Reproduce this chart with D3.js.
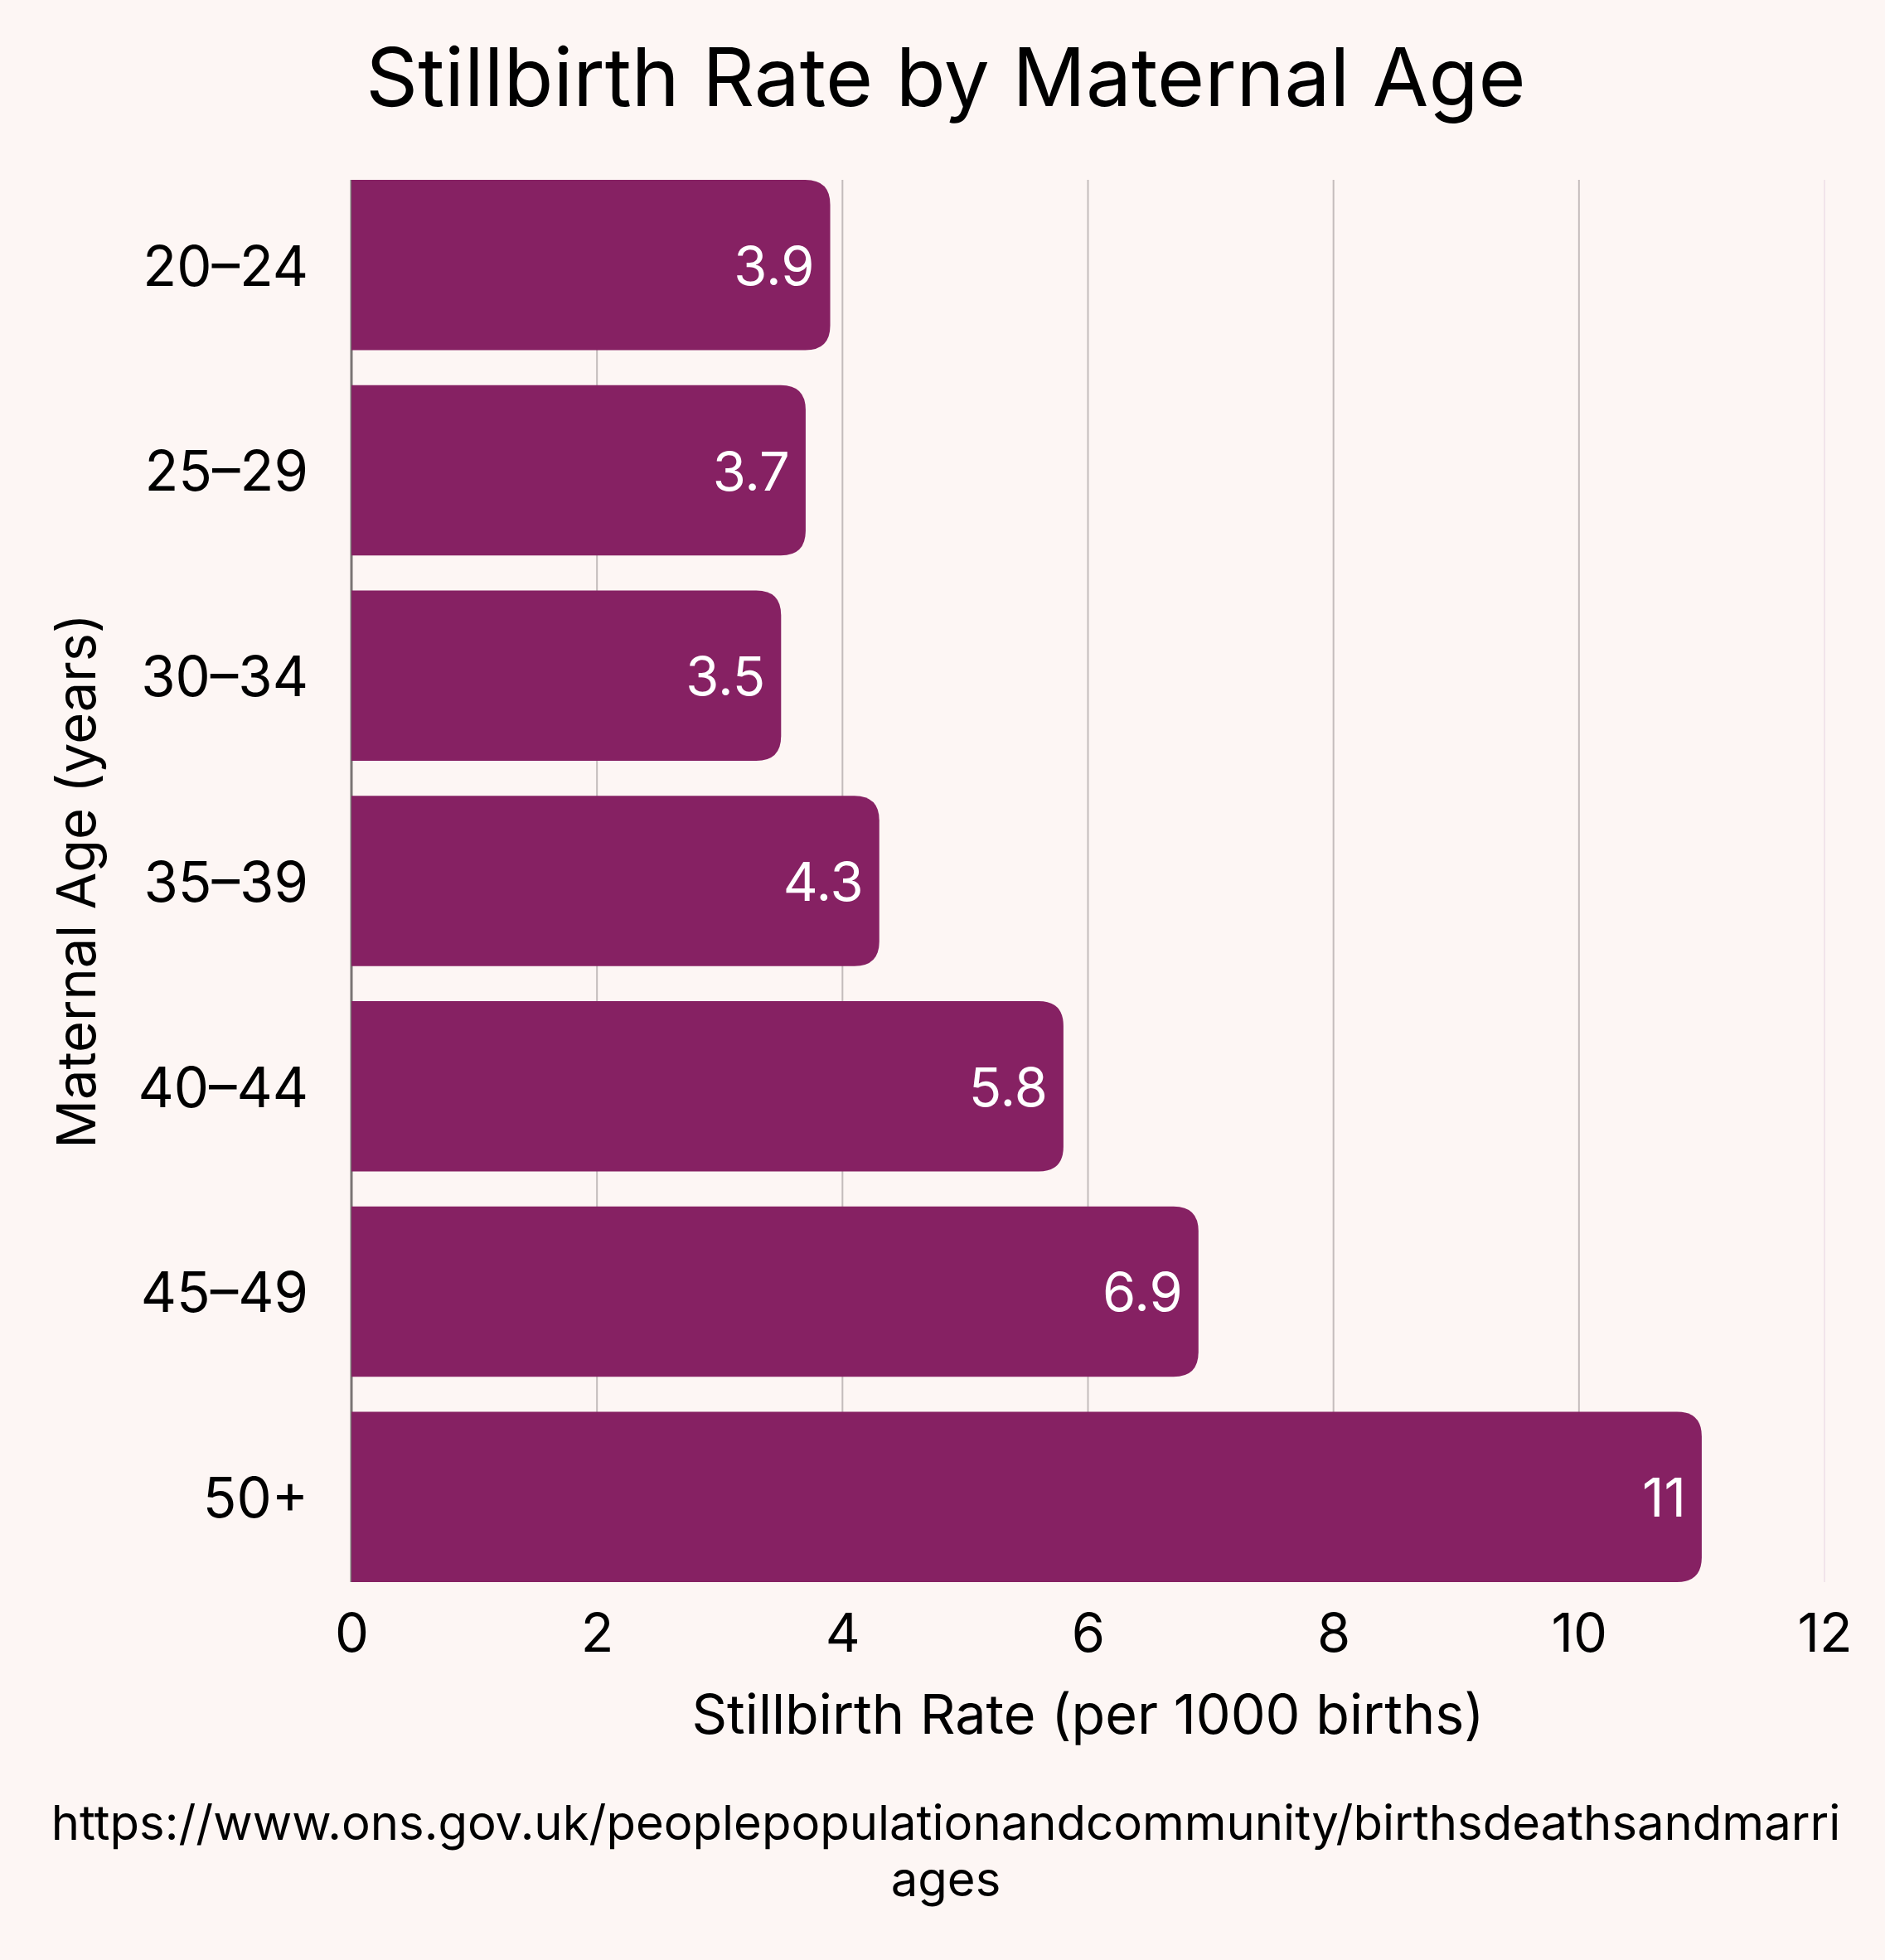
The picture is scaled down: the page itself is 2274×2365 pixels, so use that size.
<!DOCTYPE html>
<html>
<head>
<meta charset="utf-8">
<script src="https://cdn.jsdelivr.net/npm/d3@7"></script>
<style>
  html, body { margin: 0; padding: 0; background: #fdf6f4; }
  svg { display: block; font-family: Inter, "Noto Sans", sans-serif; }
</style>
</head>
<body>
<div id="chart"></div>
<script>
// ---------- Data ----------
const ageGroups = ["20–24", "25–29", "30–34", "35–39", "40–44", "45–49", "50+"];
const rates = [3.9, 3.7, 3.5, 4.3, 5.8, 6.9, 11];
const xTicks = [0, 2, 4, 6, 8, 10, 12];
const sourceLines = [
  "https://www.ons.gov.uk/peoplepopulationandcommunity/birthsdeathsandmarri",
  "ages"
];

const data = ageGroups.map((g, i) => ({ group: g, rate: rates[i] }));

// ---------- Layout ----------
const width = 2274, height = 2365;
const margin = { top: 217, right: 73, bottom: 456, left: 424 };
const barColor = "#862163";

const svg = d3.select("#chart").append("svg")
  .attr("width", width)
  .attr("height", height);

svg.append("rect")
  .attr("width", width).attr("height", height)
  .attr("fill", "#fdf6f4");

const x = d3.scaleLinear()
  .domain([0, 12])
  .range([margin.left, width - margin.right]);

const y = d3.scaleBand()
  .domain(ageGroups)
  .range([margin.top, height - margin.bottom])
  .paddingInner(0.17)
  .paddingOuter(0);

// ---------- Grid ----------
svg.append("g")
  .selectAll("line")
  .data(xTicks)
  .join("line")
  .attr("x1", d => x(d)).attr("x2", d => x(d))
  .attr("y1", margin.top).attr("y2", height - margin.bottom)
  .attr("stroke", d => d === 0 ? "#7a7474" : d === 12 ? "#f1e4ea" : "#c4bcbc")
  .attr("stroke-width", d => d === 0 ? 3 : 2);

// ---------- Bars ----------
function barPath(d) {
  const x0 = x(0), x1 = x(d.rate);
  const y0 = y(d.group), h = y.bandwidth();
  const r = Math.min(30, (x1 - x0) / 2);
  return `M${x0},${y0}H${x1 - r}Q${x1},${y0} ${x1},${y0 + r}` +
    `V${y0 + h - r}Q${x1},${y0 + h} ${x1 - r},${y0 + h}H${x0}Z`;
}

svg.append("g")
  .selectAll("path")
  .data(data)
  .join("path")
  .attr("d", barPath)
  .attr("fill", barColor);

// value labels
svg.append("g")
  .selectAll("text")
  .data(data)
  .join("text")
  .attr("x", d => x(d.rate) - 19)
  .attr("y", d => y(d.group) + y.bandwidth() / 2 + 24)
  .attr("text-anchor", "end")
  .attr("fill", "#ffffff")
  .attr("font-size", 65)
  .text(d => d3.format("~g")(d.rate));

// ---------- Axes ----------
const xAxis = svg.append("g")
  .attr("transform", `translate(0,${height - margin.bottom})`)
  .call(d3.axisBottom(x).tickValues(xTicks).tickSize(0).tickPadding(84));
xAxis.select(".domain").remove();
xAxis.selectAll("text")
  .attr("font-size", 65)
  .attr("font-family", "Inter, 'Noto Sans', sans-serif")
  .attr("fill", "#000")
  .attr("dy", null);

const yAxis = svg.append("g")
  .attr("transform", `translate(${margin.left},0)`)
  .call(d3.axisLeft(y).tickSize(0).tickPadding(52));
yAxis.select(".domain").remove();
yAxis.selectAll("text")
  .attr("font-size", 67)
  .attr("font-family", "Inter, 'Noto Sans', sans-serif")
  .attr("fill", "#000")
  .attr("dy", "0.37em");

// ---------- Titles ----------
svg.append("text")
  .attr("x", 1141).attr("y", 128)
  .attr("text-anchor", "middle")
  .attr("font-size", 98)
  .attr("fill", "#000")
  .text("Stillbirth Rate by Maternal Age");

svg.append("text")
  .attr("x", (x(0) + x(12)) / 2).attr("y", 2092)
  .attr("text-anchor", "middle")
  .attr("font-size", 66.5)
  .attr("fill", "#000")
  .text("Stillbirth Rate (per 1000 births)");

svg.append("text")
  .attr("transform", `translate(115,${(margin.top + height - margin.bottom) / 2}) rotate(-90)`)
  .attr("text-anchor", "middle")
  .attr("font-size", 65)
  .attr("fill", "#000")
  .text("Maternal Age (years)");

svg.append("text")
  .attr("text-anchor", "middle")
  .attr("font-size", 58)
  .attr("fill", "#000")
  .selectAll("tspan")
  .data(sourceLines)
  .join("tspan")
  .attr("x", 1141)
  .attr("y", (d, i) => 2220 + i * 68)
  .text(d => d);
</script>
</body>
</html>
